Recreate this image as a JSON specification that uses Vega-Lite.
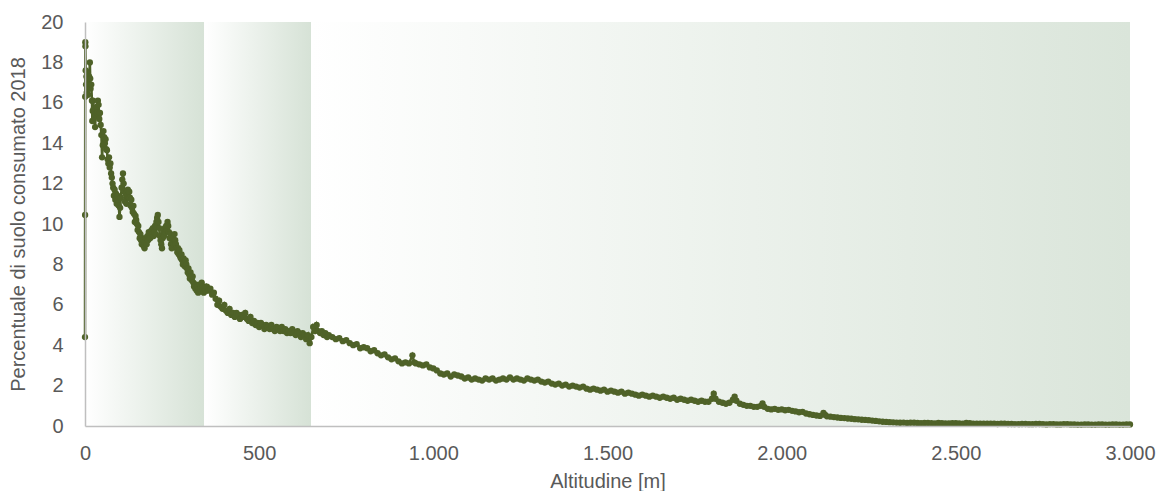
{
  "$schema": "https://vega.github.io/schema/vega-lite/v6.json",
  "width": 1045,
  "height": 404,
  "autosize": {"type": "none"},
  "padding": {"left": 85, "top": 22, "right": 28, "bottom": 65},
  "background": "white",
  "config": {"font": "Liberation Sans, Arial, sans-serif", "view": {"stroke": null}},
  "datasets": {
    "bands": [{"start": 0, "end": 342}, {"start": 342, "end": 649}],
    "band3": [{"start": 649, "end": 3000}],
    "curve": [
{"a":0,"p":4.4},{"a":0.3,"p":10.45},{"a":0.6,"p":16.3},{"a":0.9,"p":19.0},{"a":1.2,"p":18.8},{"a":2,"p":17.6},{"a":3,"p":16.9},{"a":4,"p":17.3},{"a":5,"p":16.5},{"a":6,"p":17.5},{"a":7,"p":16.8},{"a":8,"p":17.1},{"a":9,"p":16.4},{"a":10,"p":16.9},{"a":12,"p":17.3},{"a":14,"p":18.0},{"a":15,"p":17.2},{"a":16,"p":16.7},{"a":18,"p":16.9},{"a":20,"p":16.1},{"a":21,"p":15.1},{"a":22,"p":15.6},{"a":23,"p":16.1},{"a":25,"p":15.7},{"a":27,"p":15.3},{"a":29,"p":14.8},{"a":31,"p":15.4},{"a":33,"p":15.8},{"a":35,"p":15.5},{"a":37,"p":16.1},{"a":39,"p":15.9},{"a":41,"p":15.2},{"a":43,"p":15.5},{"a":45,"p":14.9},{"a":47,"p":14.4},{"a":49,"p":13.3},{"a":51,"p":13.9},{"a":53,"p":14.6},{"a":55,"p":14.3},{"a":57,"p":14.0},{"a":59,"p":14.2},{"a":61,"p":13.7},{"a":63,"p":13.65},{"a":65,"p":13.2},{"a":67,"p":13.0},{"a":69,"p":13.3},{"a":71,"p":12.8},{"a":73,"p":13.0},{"a":75,"p":12.5},{"a":77,"p":12.3},{"a":79,"p":12.0},{"a":81,"p":11.8},{"a":83,"p":11.4},{"a":85,"p":11.7},{"a":87,"p":11.2},{"a":89,"p":11.5},{"a":91,"p":11.0},{"a":93,"p":11.4},{"a":95,"p":11.2},{"a":97,"p":10.9},{"a":99,"p":10.35},{"a":101,"p":10.8},{"a":103,"p":11.3},{"a":105,"p":11.8},{"a":107,"p":12.2},{"a":109,"p":12.5},{"a":111,"p":12.0},{"a":113,"p":11.6},{"a":115,"p":11.1},{"a":117,"p":11.5},{"a":119,"p":11.0},{"a":121,"p":11.4},{"a":123,"p":11.7},{"a":125,"p":11.3},{"a":127,"p":11.6},{"a":129,"p":11.3},{"a":131,"p":10.9},{"a":133,"p":11.2},{"a":135,"p":10.8},{"a":137,"p":10.6},{"a":139,"p":10.9},{"a":141,"p":10.5},{"a":143,"p":10.1},{"a":145,"p":10.4},{"a":147,"p":10.2},{"a":149,"p":10.0},{"a":151,"p":9.7},{"a":153,"p":9.9},{"a":155,"p":9.6},{"a":157,"p":9.3},{"a":159,"p":9.5},{"a":161,"p":9.2},{"a":163,"p":9.0},{"a":165,"p":9.3},{"a":167,"p":9.2},{"a":169,"p":8.9},{"a":171,"p":8.8},{"a":173,"p":9.1},{"a":175,"p":9.3},{"a":177,"p":9.0},{"a":179,"p":9.4},{"a":181,"p":9.2},{"a":183,"p":9.6},{"a":185,"p":9.4},{"a":187,"p":9.3},{"a":189,"p":9.6},{"a":191,"p":9.7},{"a":193,"p":9.5},{"a":195,"p":9.8},{"a":197,"p":9.4},{"a":199,"p":9.6},{"a":201,"p":9.9},{"a":203,"p":9.5},{"a":205,"p":10.1},{"a":207,"p":10.3},{"a":209,"p":10.45},{"a":211,"p":10.1},{"a":213,"p":9.8},{"a":215,"p":9.4},{"a":217,"p":9.2},{"a":219,"p":9.0},{"a":221,"p":8.8},{"a":223,"p":9.3},{"a":225,"p":9.6},{"a":227,"p":9.4},{"a":229,"p":9.8},{"a":231,"p":9.6},{"a":233,"p":9.9},{"a":235,"p":9.7},{"a":237,"p":10.1},{"a":239,"p":9.9},{"a":241,"p":9.6},{"a":243,"p":9.3},{"a":245,"p":9.5},{"a":247,"p":9.0},{"a":249,"p":8.8},{"a":251,"p":9.1},{"a":253,"p":9.3},{"a":255,"p":9.0},{"a":257,"p":9.5},{"a":259,"p":9.2},{"a":261,"p":9.0},{"a":263,"p":8.8},{"a":265,"p":8.6},{"a":267,"p":8.8},{"a":269,"p":8.5},{"a":271,"p":8.7},{"a":273,"p":8.4},{"a":275,"p":8.3},{"a":277,"p":8.5},{"a":279,"p":8.2},{"a":281,"p":8.0},{"a":283,"p":8.3},{"a":285,"p":8.1},{"a":287,"p":7.9},{"a":289,"p":8.2},{"a":291,"p":8.0},{"a":293,"p":7.8},{"a":295,"p":7.6},{"a":297,"p":7.8},{"a":299,"p":7.5},{"a":301,"p":7.3},{"a":303,"p":7.6},{"a":305,"p":7.4},{"a":307,"p":7.2},{"a":309,"p":7.4},{"a":311,"p":7.1},{"a":313,"p":6.9},{"a":315,"p":7.0},{"a":317,"p":6.8},{"a":319,"p":7.0},{"a":321,"p":6.7},{"a":323,"p":6.9},{"a":325,"p":6.6},{"a":327,"p":6.8},{"a":329,"p":7.0},{"a":331,"p":6.8},{"a":333,"p":6.9},{"a":335,"p":7.1},{"a":337,"p":6.8},{"a":339,"p":6.9},{"a":341,"p":6.6},{"a":343,"p":6.8},{"a":345,"p":6.9},{"a":347,"p":6.7},
{"a":350,"p":6.9},{"a":355,"p":6.7},{"a":360,"p":6.8},{"a":365,"p":6.5},{"a":370,"p":6.6},{"a":375,"p":6.3},{"a":380,"p":6.0},{"a":385,"p":6.2},{"a":390,"p":5.9},{"a":395,"p":5.8},{"a":400,"p":6.0},{"a":405,"p":5.7},{"a":410,"p":5.6},{"a":415,"p":5.8},{"a":420,"p":5.5},{"a":425,"p":5.6},{"a":430,"p":5.4},{"a":435,"p":5.6},{"a":440,"p":5.5},{"a":445,"p":5.3},{"a":450,"p":5.5},{"a":455,"p":5.4},{"a":460,"p":5.6},{"a":465,"p":5.3},{"a":470,"p":5.2},{"a":475,"p":5.4},{"a":480,"p":5.1},{"a":485,"p":5.2},{"a":490,"p":5.0},{"a":495,"p":5.1},{"a":500,"p":4.9},{"a":505,"p":5.1},{"a":510,"p":5.0},{"a":515,"p":4.8},{"a":520,"p":5.0},{"a":525,"p":4.9},{"a":530,"p":4.8},{"a":535,"p":5.0},{"a":540,"p":4.8},{"a":545,"p":4.7},{"a":550,"p":4.9},{"a":555,"p":4.8},{"a":560,"p":4.7},{"a":565,"p":4.9},{"a":570,"p":4.7},{"a":575,"p":4.8},{"a":580,"p":4.6},{"a":585,"p":4.7},{"a":590,"p":4.6},{"a":595,"p":4.8},{"a":600,"p":4.6},{"a":605,"p":4.5},{"a":610,"p":4.7},{"a":615,"p":4.6},{"a":620,"p":4.4},{"a":625,"p":4.6},{"a":630,"p":4.5},{"a":635,"p":4.3},{"a":640,"p":4.5},{"a":645,"p":4.1},{"a":650,"p":4.4},{"a":655,"p":4.9},{"a":660,"p":4.7},{"a":665,"p":5.0},{"a":670,"p":4.7},{"a":675,"p":4.6},{"a":680,"p":4.7},{"a":685,"p":4.5},{"a":690,"p":4.6},{"a":695,"p":4.4},{"a":700,"p":4.5},
{"a":710,"p":4.4},{"a":720,"p":4.3},{"a":730,"p":4.35},{"a":740,"p":4.2},{"a":750,"p":4.25},{"a":760,"p":4.1},{"a":770,"p":4.0},{"a":780,"p":4.05},{"a":790,"p":3.85},{"a":800,"p":3.9},{"a":810,"p":3.85},{"a":820,"p":3.7},{"a":830,"p":3.75},{"a":840,"p":3.6},{"a":850,"p":3.5},{"a":860,"p":3.55},{"a":870,"p":3.4},{"a":880,"p":3.3},{"a":890,"p":3.35},{"a":900,"p":3.2},{"a":910,"p":3.1},{"a":920,"p":3.15},{"a":930,"p":3.1},{"a":940,"p":3.5},{"a":945,"p":3.15},{"a":950,"p":3.1},{"a":960,"p":3.05},{"a":970,"p":3.0},{"a":980,"p":3.05},{"a":990,"p":2.9},{"a":1000,"p":2.85},{"a":1010,"p":2.75},{"a":1020,"p":2.6},{"a":1030,"p":2.55},{"a":1040,"p":2.6},{"a":1050,"p":2.45},{"a":1060,"p":2.55},{"a":1070,"p":2.5},{"a":1080,"p":2.45},{"a":1090,"p":2.35},{"a":1100,"p":2.4},{"a":1110,"p":2.3},{"a":1120,"p":2.35},{"a":1130,"p":2.3},{"a":1140,"p":2.25},{"a":1150,"p":2.35},{"a":1160,"p":2.3},{"a":1170,"p":2.35},{"a":1180,"p":2.25},{"a":1190,"p":2.3},{"a":1200,"p":2.35},{"a":1210,"p":2.3},{"a":1220,"p":2.4},{"a":1230,"p":2.3},{"a":1240,"p":2.35},{"a":1250,"p":2.3},{"a":1260,"p":2.25},{"a":1270,"p":2.35},{"a":1280,"p":2.3},{"a":1290,"p":2.25},{"a":1300,"p":2.3},{"a":1310,"p":2.2},{"a":1320,"p":2.15},{"a":1330,"p":2.2},{"a":1340,"p":2.1},{"a":1350,"p":2.05},{"a":1360,"p":2.1},{"a":1370,"p":2.0},{"a":1380,"p":2.05},{"a":1390,"p":1.95},{"a":1400,"p":2.0},{"a":1410,"p":1.95},{"a":1420,"p":1.9},{"a":1430,"p":1.95},{"a":1440,"p":1.85},{"a":1450,"p":1.8},{"a":1460,"p":1.85},{"a":1470,"p":1.8},{"a":1480,"p":1.75},{"a":1490,"p":1.8},{"a":1500,"p":1.7},{"a":1510,"p":1.75},{"a":1520,"p":1.7},{"a":1530,"p":1.65},{"a":1540,"p":1.7},{"a":1550,"p":1.6},{"a":1560,"p":1.65},{"a":1570,"p":1.6},{"a":1580,"p":1.55},{"a":1590,"p":1.5},{"a":1600,"p":1.55},{"a":1610,"p":1.5},{"a":1620,"p":1.45},{"a":1630,"p":1.5},{"a":1640,"p":1.45},{"a":1650,"p":1.4},{"a":1660,"p":1.45},{"a":1670,"p":1.4},{"a":1680,"p":1.35},{"a":1690,"p":1.4},{"a":1700,"p":1.3},{"a":1710,"p":1.35},{"a":1720,"p":1.3},{"a":1730,"p":1.25},{"a":1740,"p":1.3},{"a":1750,"p":1.25},{"a":1760,"p":1.2},{"a":1770,"p":1.25},{"a":1780,"p":1.2},{"a":1790,"p":1.2},{"a":1800,"p":1.35},{"a":1805,"p":1.6},{"a":1810,"p":1.35},{"a":1820,"p":1.2},{"a":1830,"p":1.15},{"a":1840,"p":1.1},{"a":1850,"p":1.15},{"a":1860,"p":1.3},{"a":1865,"p":1.45},{"a":1870,"p":1.25},{"a":1880,"p":1.1},{"a":1890,"p":1.05},{"a":1900,"p":1.0},{"a":1910,"p":1.0},{"a":1920,"p":0.95},{"a":1930,"p":0.95},{"a":1940,"p":1.0},{"a":1945,"p":1.12},{"a":1950,"p":0.95},{"a":1960,"p":0.85},{"a":1970,"p":0.82},{"a":1980,"p":0.85},{"a":1990,"p":0.8},{"a":2000,"p":0.82},{"a":2010,"p":0.78},{"a":2020,"p":0.8},{"a":2030,"p":0.75},{"a":2040,"p":0.72},{"a":2050,"p":0.68},{"a":2060,"p":0.7},{"a":2070,"p":0.62},{"a":2080,"p":0.58},{"a":2090,"p":0.55},{"a":2100,"p":0.52},{"a":2110,"p":0.5},{"a":2120,"p":0.65},{"a":2125,"p":0.55},{"a":2130,"p":0.48},{"a":2140,"p":0.46},{"a":2150,"p":0.44},{"a":2160,"p":0.42},{"a":2170,"p":0.4},{"a":2180,"p":0.39},{"a":2190,"p":0.37},{"a":2200,"p":0.36},{"a":2210,"p":0.34},{"a":2220,"p":0.33},{"a":2230,"p":0.31},{"a":2240,"p":0.3},{"a":2250,"p":0.29},{"a":2260,"p":0.27},{"a":2270,"p":0.25},{"a":2280,"p":0.23},{"a":2290,"p":0.21},{"a":2300,"p":0.2},
{"a":2310,"p":0.19},{"a":2320,"p":0.18},{"a":2330,"p":0.17},{"a":2340,"p":0.16},{"a":2350,"p":0.17},{"a":2360,"p":0.15},{"a":2370,"p":0.16},{"a":2380,"p":0.16},{"a":2390,"p":0.15},{"a":2400,"p":0.14},{"a":2410,"p":0.15},{"a":2420,"p":0.15},{"a":2430,"p":0.14},{"a":2440,"p":0.13},{"a":2450,"p":0.15},{"a":2460,"p":0.14},{"a":2470,"p":0.13},{"a":2480,"p":0.13},{"a":2490,"p":0.14},{"a":2500,"p":0.14},{"a":2510,"p":0.13},{"a":2520,"p":0.12},{"a":2530,"p":0.15},{"a":2540,"p":0.14},{"a":2550,"p":0.12},{"a":2560,"p":0.12},{"a":2570,"p":0.11},{"a":2580,"p":0.11},{"a":2590,"p":0.12},{"a":2600,"p":0.12},{"a":2610,"p":0.11},{"a":2620,"p":0.1},{"a":2630,"p":0.11},{"a":2640,"p":0.11},{"a":2650,"p":0.1},{"a":2660,"p":0.1},{"a":2670,"p":0.09},{"a":2680,"p":0.09},{"a":2690,"p":0.1},{"a":2700,"p":0.1},{"a":2710,"p":0.09},{"a":2720,"p":0.09},{"a":2730,"p":0.1},{"a":2740,"p":0.1},{"a":2750,"p":0.09},{"a":2760,"p":0.08},{"a":2770,"p":0.09},{"a":2780,"p":0.09},{"a":2790,"p":0.08},{"a":2800,"p":0.08},{"a":2810,"p":0.09},{"a":2820,"p":0.09},{"a":2830,"p":0.08},{"a":2840,"p":0.08},{"a":2850,"p":0.07},{"a":2860,"p":0.07},{"a":2870,"p":0.08},{"a":2880,"p":0.08},{"a":2890,"p":0.07},{"a":2900,"p":0.07},{"a":2910,"p":0.08},{"a":2920,"p":0.08},{"a":2930,"p":0.07},{"a":2940,"p":0.07},{"a":2950,"p":0.08},{"a":2960,"p":0.08},{"a":2970,"p":0.07},{"a":2980,"p":0.07},{"a":2990,"p":0.08},{"a":3000,"p":0.08}
    ]
  },
  "layer": [
    {
      "data": {"name": "bands"},
      "mark": {"type": "rect", "color": {"gradient": "linear", "x1": 0, "y1": 0, "x2": 1, "y2": 0, "stops": [{"offset": 0, "color": "#ffffff"}, {"offset": 1, "color": "#d6e2d6"}]}},
      "encoding": {
        "x": {"field": "start", "type": "quantitative", "scale": {"domain": [0, 3000], "nice": false, "padding": 0, "zero": false}},
        "x2": {"field": "end"}
      }
    },
    {
      "data": {"name": "band3"},
      "mark": {"type": "rect", "color": {"gradient": "linear", "x1": 0, "y1": 0, "x2": 1, "y2": 0, "stops": [{"offset": 0, "color": "#ffffff"}, {"offset": 1, "color": "#dae5da"}]}},
      "encoding": {
        "x": {"field": "start", "type": "quantitative", "scale": {"domain": [0, 3000], "nice": false, "padding": 0, "zero": false}},
        "x2": {"field": "end"}
      }
    },
    {
      "data": {"name": "curve"},
      "mark": {"type": "line", "color": "#4f6228", "strokeWidth": 2.5, "point": {"filled": true, "size": 40, "color": "#4f6228", "opacity": 1}},
      "encoding": {
        "x": {"field": "a", "type": "quantitative", "scale": {"domain": [0, 3000], "nice": false, "padding": 0, "zero": false},
          "axis": {"title": "Altitudine [m]", "values": [0, 500, 1000, 1500, 2000, 2500, 3000], "labelExpr": "replace(format(datum.value, ','), ',', '.')", "labelFlush": false, "grid": false, "ticks": false, "domainColor": "#bfbfbf", "domainWidth": 1.5, "labelFontSize": 20, "labelColor": "#595959", "labelPadding": 17, "titleFontSize": 20, "titleColor": "#595959", "titleFontWeight": "normal", "titlePadding": 8, "zindex": 1}},
        "y": {"field": "p", "type": "quantitative", "scale": {"domain": [0, 20], "nice": false, "padding": 0},
          "axis": {"title": "Percentuale di suolo consumato 2018", "values": [0, 2, 4, 6, 8, 10, 12, 14, 16, 18, 20], "labelFlush": false, "grid": false, "ticks": false, "domainColor": "#bfbfbf", "domainWidth": 1.5, "labelFontSize": 20, "labelColor": "#595959", "labelPadding": 22, "titleFontSize": 20, "titleColor": "#595959", "titleFontWeight": "normal", "titlePadding": 12, "zindex": 1}}
      }
    }
  ]
}
